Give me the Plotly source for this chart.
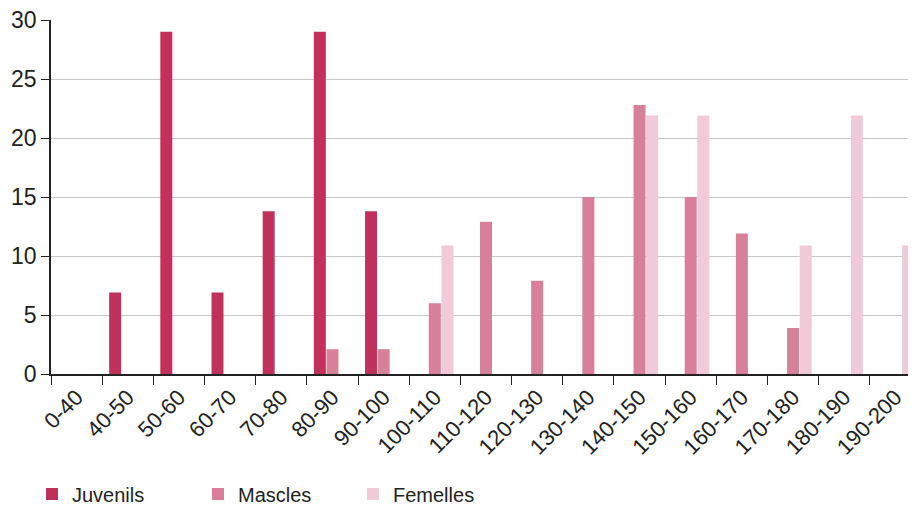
import plotly.graph_objects as go

categories = ["0-40", "40-50", "50-60", "60-70", "70-80", "80-90", "90-100",
              "100-110", "110-120", "120-130", "130-140", "140-150", "150-160",
              "160-170", "170-180", "180-190", "190-200"]
juvenils = [0, 6.9, 29.0, 6.9, 13.8, 29.0, 13.8, 0, 0, 0, 0, 0, 0, 0, 0, 0, 0]
mascles = [0, 0, 0, 0, 0, 2.1, 2.1, 6.0, 12.9, 7.9, 15.0, 22.8, 15.0, 11.9, 3.9, 0, 0]
femelles = [0, 0, 0, 0, 0, 0, 0, 10.9, 0, 0, 0, 21.9, 21.9, 0, 10.9, 21.9, 10.9]
y_ticks = [0, 5, 10, 15, 20, 25, 30]

colors = {"Juvenils": "#C0325C", "Mascles": "#D87F9A", "Femelles": "#F0CAD8"}
FONT = "Liberation Sans, Arial, sans-serif"

fig = go.Figure()
for name, vals, lg in [("Juvenils", juvenils, "legend"),
                       ("Mascles", mascles, "legend2"),
                       ("Femelles", femelles, "legend3")]:
    fig.add_trace(go.Bar(x=categories, y=vals, name=name, showlegend=True,
                         marker=dict(color=colors[name], line=dict(width=0)),
                         legend=lg))

# the page body adds an 8px offset; the figure is laid out to compensate
W, H = 916, 506
ml, mr, mt, mb = 43, 3, 12, 140

leg_common = dict(orientation="h", font=dict(family=FONT, size=20, color="#222"),
                  bgcolor="rgba(0,0,0,0)", yanchor="middle", xanchor="left",
                  xref="container", yref="container", visible=True,
                  itemwidth=30, tracegroupgap=0)
yc = 1 - 486 / H
fig.update_layout(
    width=W, height=H, showlegend=True,
    margin=dict(l=ml, r=mr, t=mt, b=mb, pad=0, autoexpand=False),
    paper_bgcolor="white", plot_bgcolor="white",
    barmode="group", bargap=0.26, bargroupgap=0.05,
    font=dict(family=FONT, size=20, color="#222"),
    legend=dict(x=24 / W, y=yc, **leg_common),
    legend2=dict(x=190 / W, y=yc, **leg_common),
    legend3=dict(x=345 / W, y=yc, **leg_common),
    xaxis=dict(type="category", range=[-0.5, 16.5], tickangle=-45,
               tickson="boundaries", ticks="outside", ticklen=9, tickcolor="#222",
               showline=True, linecolor="#222", linewidth=1.5,
               showgrid=False, zeroline=False, automargin=False,
               ticklabeloverflow="allow",
               tickfont=dict(family=FONT, size=22, color="#222")),
    yaxis=dict(range=[0, 30], tickvals=y_ticks, ticks="outside", ticklen=8,
               tickcolor="#222", showline=True, linecolor="#222", linewidth=1.5,
               showgrid=True, gridcolor="#C8C8C8", gridwidth=1.2,
               zeroline=False, ticklabelstandoff=0, automargin=False,
               ticklabeloverflow="allow",
               tickfont=dict(family=FONT, size=23, color="#222")),
)

fig.write_html("out.html")
